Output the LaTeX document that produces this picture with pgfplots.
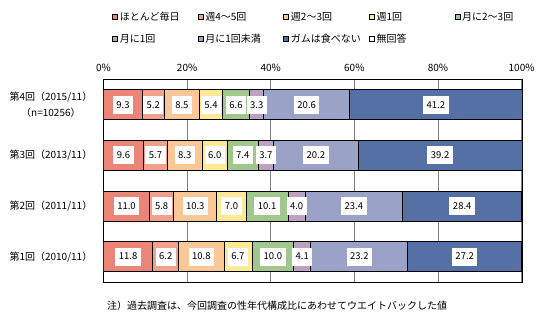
\documentclass[border=0pt]{standalone}
\usepackage{fontspec}
\setmainfont{Noto Sans CJK JP}
\usepackage{pgfplots}
\pgfplotsset{compat=1.18}
\usepackage{pgfplotstable}
\definecolor{c1}{RGB}{235,133,120}
\definecolor{c2}{RGB}{240,160,140}
\definecolor{c3}{RGB}{250,200,150}
\definecolor{c4}{RGB}{253,233,150}
\definecolor{c5}{RGB}{160,200,140}
\definecolor{c6}{RGB}{190,160,195}
\definecolor{c7}{RGB}{155,162,200}
\definecolor{c8}{RGB}{85,112,165}
\pgfplotstableread{
y a b c d e f g h
4 9.3 5.2 8.5 5.4 6.6 3.3 20.6 41.2
3 9.6 5.7 8.3 6.0 7.4 3.7 20.2 39.2
2 11.0 5.8 10.3 7.0 10.1 4.0 23.4 28.4
1 11.8 6.2 10.8 6.7 10.0 4.1 23.2 27.2
}\data
% label positions: middle of each stacked segment
\pgfplotstablecreatecol[create col/expr={\thisrow{a}/2}]{ma}\data
\pgfplotstablecreatecol[create col/expr={\thisrow{a}+\thisrow{b}/2}]{mb}\data
\pgfplotstablecreatecol[create col/expr={\thisrow{a}+\thisrow{b}+\thisrow{c}/2}]{mc}\data
\pgfplotstablecreatecol[create col/expr={\thisrow{a}+\thisrow{b}+\thisrow{c}+\thisrow{d}/2}]{md}\data
\pgfplotstablecreatecol[create col/expr={\thisrow{a}+\thisrow{b}+\thisrow{c}+\thisrow{d}+\thisrow{e}/2}]{me}\data
\pgfplotstablecreatecol[create col/expr={\thisrow{a}+\thisrow{b}+\thisrow{c}+\thisrow{d}+\thisrow{e}+\thisrow{f}/2}]{mf}\data
\pgfplotstablecreatecol[create col/expr={\thisrow{a}+\thisrow{b}+\thisrow{c}+\thisrow{d}+\thisrow{e}+\thisrow{f}+\thisrow{g}/2}]{mg}\data
\pgfplotstablecreatecol[create col/expr={\thisrow{a}+\thisrow{b}+\thisrow{c}+\thisrow{d}+\thisrow{e}+\thisrow{f}+\thisrow{g}+\thisrow{h}/2}]{mh}\data
\pgfplotsset{
  geom/.style={at={(0,0)}, anchor=south west, scale only axis, width=418.5bp, height=202.5bp,
    xmin=0, xmax=100.1, ymin=0.5, ymax=4.5},
  lab/.style={only marks, mark=none, point meta=explicit,
    nodes near coords={\pgfmathprintnumber[fixed,fixed zerofill,precision=1,assume math mode=true]{\pgfplotspointmeta}},
    every node near coord/.append style={anchor=center, fill=white, draw=none, text=black,
      inner xsep=3.5bp, inner ysep=5.25bp, text height=7bp, text depth=0.5bp,
      font=\fontsize{9.5bp}{10bp}\selectfont}},
}
\begin{document}
\begin{tikzpicture}
\useasboundingbox (-103.5bp,-44bp) rectangle (438.5bp,282bp);
\begin{axis}[
  geom,
  xbar stacked, bar width=30bp,
  xtick={0,20,40,60,80,100},
  xticklabels={0\%,20\%,40\%,60\%,80\%,100\%},
  xticklabel pos=upper,
  xticklabel style={inner sep=0pt, yshift=8bp},
  ytick={1,2,3,4},
  yticklabels={第1回（2010/11）,第2回（2011/11）,第3回（2013/11）,{第4回（2015/11）\\（n=10256）}},
  yticklabel style={align=center, inner sep=0pt, xshift=-11bp},
  major tick length=0pt,
  xmajorgrids, grid style={gray, line width=0.8bp},
  axis line style={line width=1bp},
  font=\fontsize{10bp}{16bp}\selectfont,
  every axis plot/.append style={draw=black, line width=0.8bp},
  legend columns=5,
  legend style={draw=none, fill=none, at={(axis description cs:0.0203,1.333)}, anchor=north west,
    inner sep=0pt, row sep=12bp, column sep=0pt,
    nodes={inner sep=0pt, text width=78bp, align=left, text height=8bp, text depth=2bp},
    /tikz/every odd column/.style={column sep=2bp},
    font=\fontsize{10bp}{12bp}\selectfont},
  legend image code/.code={\draw[#1, draw=black, line width=0.6bp] (0bp,-2.5bp) rectangle (5bp,2.5bp);},
]
\addplot[fill=c1] table[x=a,y=y]{\data}; \addlegendentry{ほとんど毎日}
\addplot[fill=c2] table[x=b,y=y]{\data}; \addlegendentry{週4～5回}
\addplot[fill=c3] table[x=c,y=y]{\data}; \addlegendentry{週2～3回}
\addplot[fill=c4] table[x=d,y=y]{\data}; \addlegendentry{週1回}
\addplot[fill=c5] table[x=e,y=y]{\data}; \addlegendentry{月に2～3回}
\addplot[fill=c6] table[x=f,y=y]{\data}; \addlegendentry{月に1回}
\addplot[fill=c7] table[x=g,y=y]{\data}; \addlegendentry{月に1回未満}
\addplot[fill=c8] table[x=h,y=y]{\data}; \addlegendentry{ガムは食べない}
\addlegendimage{fill=white, draw=black}\addlegendentry{無回答}
\end{axis}
\begin{axis}[geom, axis lines=none, clip=false]
\addplot[lab] table[x=ma,y=y,meta=a]{\data};
\addplot[lab] table[x=mb,y=y,meta=b]{\data};
\addplot[lab] table[x=mc,y=y,meta=c]{\data};
\addplot[lab] table[x=md,y=y,meta=d]{\data};
\addplot[lab] table[x=me,y=y,meta=e]{\data};
\addplot[lab] table[x=mf,y=y,meta=f]{\data};
\addplot[lab] table[x=mg,y=y,meta=g]{\data};
\addplot[lab] table[x=mh,y=y,meta=h]{\data};
\end{axis}
\node[anchor=west, inner sep=0pt, font=\fontsize{10bp}{12bp}\selectfont] at (3.5bp,-23.7bp)
  {注）過去調査は、今回調査の性年代構成比にあわせてウエイトバックした値};
\end{tikzpicture}
\end{document}
